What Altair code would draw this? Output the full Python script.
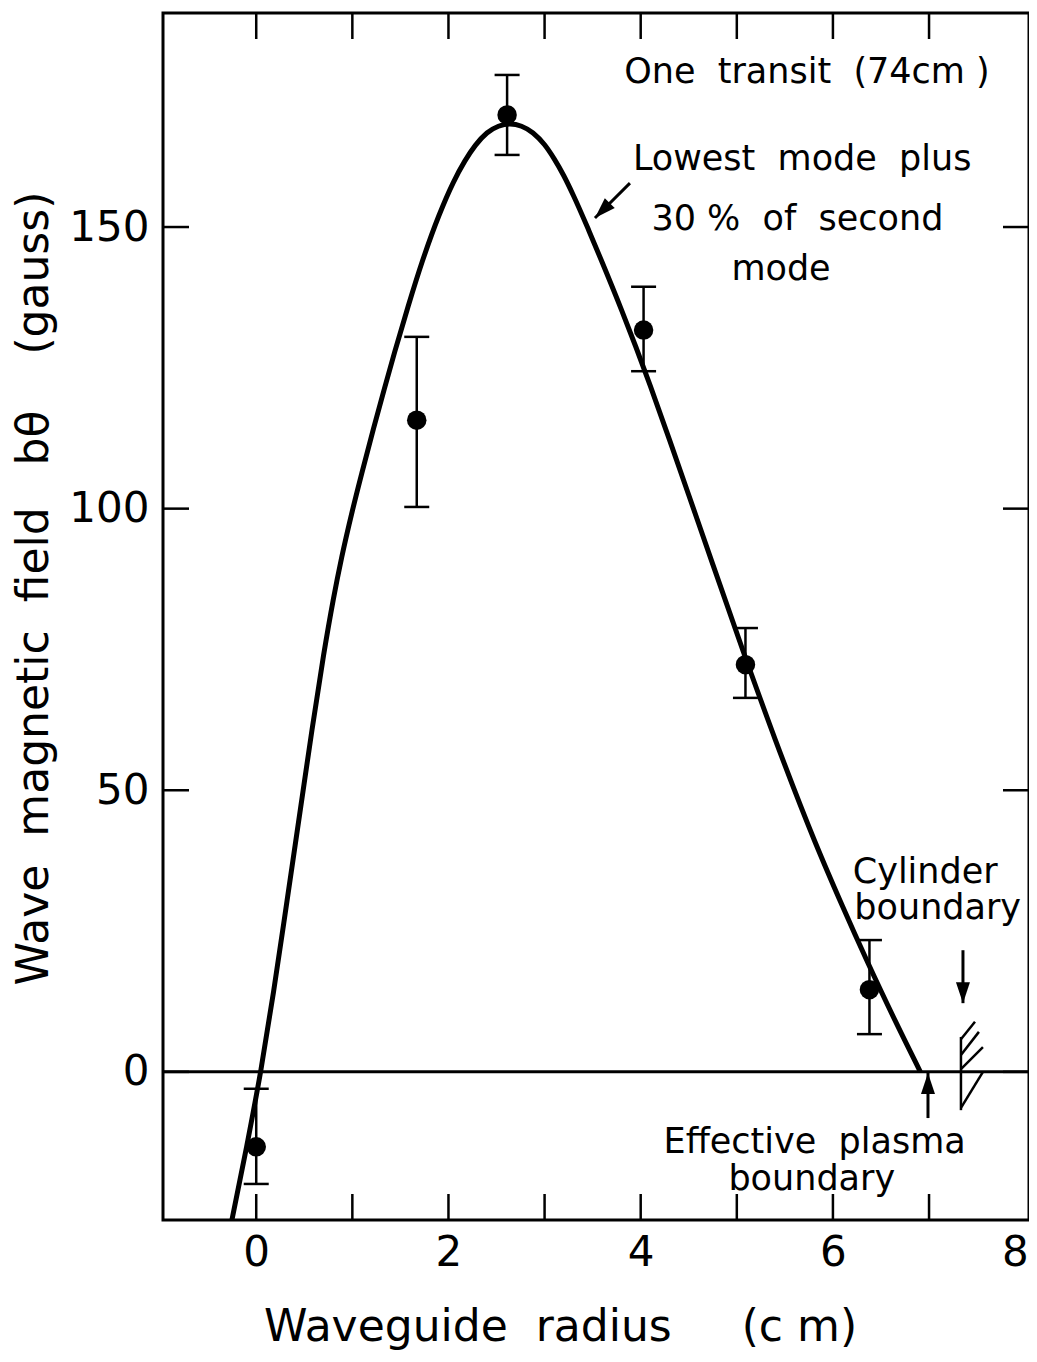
import altair as alt
import pandas as pd

# ---------------- values ----------------
pt_x = [0.0, 1.67, 2.61, 4.03, 5.09, 6.38]
pt_y = [-13.3, 115.7, 169.9, 131.7, 72.3, 14.6]
err_hi = [-3.0, 130.5, 177.0, 139.4, 78.8, 23.4]
err_lo = [-19.9, 100.3, 162.8, 124.4, 66.4, 6.7]

curve_x = [-0.30, -0.10, 0.05, 0.18, 0.32, 0.46, 0.58, 0.70, 0.80, 0.89, 1.00,
           1.10, 1.22, 1.33, 1.44, 1.58, 1.73, 1.90, 2.05, 2.17, 2.28, 2.40,
           2.52, 2.64, 2.76, 2.88, 3.00, 3.10, 3.20, 3.30, 3.46, 3.60, 3.80,
           3.95, 4.10, 4.30, 4.60, 5.07, 5.40, 5.81, 6.10, 6.36, 6.65, 6.91]
curve_y = [-30.3, -13.3, 0.5, 14.2, 30.3, 46.7, 60.7, 73.9, 83.7, 91.4, 99.6,
           106.4, 114.2, 121.1, 127.8, 135.9, 144.0, 152.0, 157.9, 161.7, 164.5, 166.7,
           167.9, 168.3, 167.9, 166.7, 164.6, 162.1, 159.1, 155.6, 149.4, 143.7, 135.3,
           128.7, 121.8, 112.2, 97.5, 74.5, 59.0, 41.0, 29.4, 19.5, 9.0, 0.0]

x_tick_values = [0, 1, 2, 3, 4, 5, 6, 7]
x_label_values = [0, 2, 4, 6, 8]
y_tick_values = [0, 50, 100, 150]

S = "\u00a0"
note_text = ["One" + S * 2 + "transit" + S * 2 + "(74cm" + S + ")",
             "Lowest" + S * 2 + "mode" + S * 2 + "plus",
             "30" + S + "%" + S * 2 + "of" + S * 2 + "second",
             "mode",
             "Cylinder", "boundary",
             "Effective" + S * 2 + "plasma", "boundary"]
note_x = [5.73, 5.68, 5.63, 5.46, 6.96, 7.09, 5.81, 5.78]
note_y = [177.6, 162.0, 151.5, 142.6, 35.5, 29.1, -12.4, -19.1]

arrow_x1 = [3.888, 7.353, 6.989]
arrow_y1 = [157.8, 21.6, -8.2]
arrow_x2 = [3.524, 7.353, 6.989]
arrow_y2 = [151.6, 12.2, -0.2]
arrow_angle = [45, 0, 180]

hatch_x1 = [7.332, 7.332, 7.332, 7.332, 7.332]
hatch_y1 = [6.2, 5.8, 3.0, 0.5, -6.4]
hatch_x2 = [7.332, 7.478, 7.519, 7.561, 7.561]
hatch_y2 = [-6.8, 8.9, 7.1, 4.4, 0.0]

# ---------------- chart ----------------
W, H = 866, 1207
TL = 26
FONT = "DejaVu Sans"

xs = alt.Scale(domain=[-0.97, 8.04], nice=False, zero=False)
ys = alt.Scale(domain=[-26.3, 188.0], nice=False, zero=False)

x_axis = alt.Axis(values=x_label_values, format="d", ticks=False, domain=False, grid=False,
                  labelFont=FONT, labelFontSize=42, labelColor="black",
                  labelBaseline="middle", labelPadding=32,
                  labelAlign={"condition": {"test": "datum.value == 8", "value": "right"},
                              "value": "center"},
                  labelOffset={"condition": {"test": "datum.value == 8", "value": 3},
                               "value": 0},
                  title="Waveguide" + S * 2 + "radius" + S * 5 + "(c" + S + "m)",
                  titleFont=FONT, titleFontSize=44,
                  titleFontWeight="normal", titleColor="black",
                  titleX=397, titleY=120, titleBaseline="alphabetic", titleAlign="center")
y_axis = alt.Axis(values=y_tick_values, format="d", ticks=False, domain=False, grid=False,
                  labelFont=FONT, labelFontSize=42, labelColor="black",
                  labelPadding=14,
                  title="Wave" + S * 2 + "magnetic" + S * 2 + "field" + S * 3 + "b\u03b8"
                        + S * 4 + "(gauss)",
                  titleFont=FONT,
                  titleFontSize=44, titleFontWeight="normal", titleColor="black",
                  titleAngle=270, titleX=-116, titleY=575, titleBaseline="alphabetic",
                  titleAlign="center")


def X(f):
    return alt.X(f, type="quantitative", scale=xs, axis=x_axis)


def Y(f):
    return alt.Y(f, type="quantitative", scale=ys, axis=y_axis)


pts = pd.DataFrame({"x": pt_x, "y": pt_y, "lo": err_lo, "hi": err_hi})
curve = pd.DataFrame({"x": curve_x, "y": curve_y})

zero = alt.Chart(pd.DataFrame({"y": [0]})).mark_rule(color="black", strokeWidth=3).encode(
    y=Y("y"))

line = alt.Chart(curve).mark_line(color="black", strokeWidth=5, interpolate="monotone",
                                  clip=True).encode(x=X("x"), y=Y("y"))

bars = alt.Chart(pts).mark_rule(color="black", strokeWidth=2.5).encode(
    x=X("x"), y=Y("lo"), y2="hi")
cap_hi = alt.Chart(pts).mark_tick(color="black", orient="horizontal", size=25,
                                  thickness=2.5, opacity=1).encode(x=X("x"), y=Y("hi"))
cap_lo = alt.Chart(pts).mark_tick(color="black", orient="horizontal", size=25,
                                  thickness=2.5, opacity=1).encode(x=X("x"), y=Y("lo"))
dots = alt.Chart(pts).mark_point(filled=True, shape="circle", size=380, color="black",
                                 opacity=1).encode(x=X("x"), y=Y("y"))

xt = pd.DataFrame({"t": x_tick_values})
yt = pd.DataFrame({"t": y_tick_values})
tick_b = alt.Chart(xt).mark_rule(color="black", strokeWidth=2.5).encode(
    x=X("t"), y=alt.value(H), y2=alt.value(H - TL))
tick_t = alt.Chart(xt).mark_rule(color="black", strokeWidth=2.5).encode(
    x=X("t"), y=alt.value(0), y2=alt.value(TL))
tick_l = alt.Chart(yt).mark_rule(color="black", strokeWidth=2.5).encode(
    y=Y("t"), x=alt.value(0), x2=alt.value(TL))
tick_r = alt.Chart(yt).mark_rule(color="black", strokeWidth=2.5).encode(
    y=Y("t"), x=alt.value(W), x2=alt.value(W - TL))

notes = alt.Chart(pd.DataFrame({"t": note_text, "x": note_x, "y": note_y})).mark_text(
    font=FONT, fontSize=35, align="center", baseline="middle", color="black").encode(
    x=X("x"), y=Y("y"), text="t:N")

arrows_df = pd.DataFrame({"x1": arrow_x1, "y1": arrow_y1, "x2": arrow_x2, "y2": arrow_y2,
                          "a": arrow_angle})
arrows = alt.Chart(arrows_df).mark_rule(color="black", strokeWidth=3).encode(
    x=X("x1"), y=Y("y1"), x2="x2", y2="y2")
heads = alt.Chart(arrows_df).mark_point(
    shape="M -1 -3 L 0 0 L 1 -3 Z", filled=True, size=196, color="black", opacity=1).encode(
    x=X("x2"), y=Y("y2"), angle=alt.Angle("a:Q", scale=None))

hatch = alt.Chart(pd.DataFrame({"x1": hatch_x1, "y1": hatch_y1, "x2": hatch_x2,
                                "y2": hatch_y2})).mark_rule(color="black", strokeWidth=2.5).encode(
    x=X("x1"), y=Y("y1"), x2="x2", y2="y2")

chart = alt.layer(
    zero, line, bars, cap_hi, cap_lo, dots, tick_b, tick_t, tick_l, tick_r,
    notes, arrows, heads, hatch
).properties(
    width=W, height=H,
    autosize=alt.AutoSizeParams(type="none"),
    padding={"left": 155, "top": 5, "right": 0, "bottom": 134},
    background="white",
).configure_view(stroke="black", strokeWidth=3).configure_axis(grid=False)

chart.save("out.html", embed_options={"renderer": "svg", "actions": False})
